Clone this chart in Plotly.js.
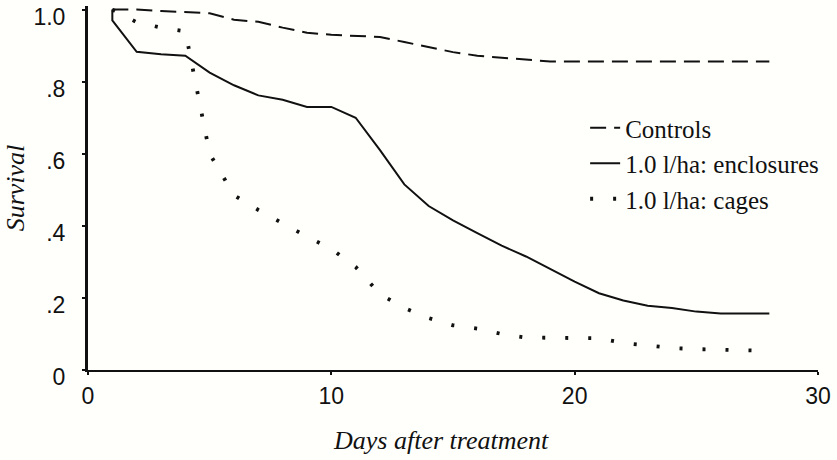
<!DOCTYPE html>
<html>
<head>
<meta charset="utf-8">
<script src="https://cdn.plot.ly/plotly-3.0.1.min.js"></script>
<style>html,body{margin:0;padding:0;background:#fffffc;}#chart{width:837px;height:460px;}</style>
</head>
<body>
<div id="chart"></div>
<script>
// Days after treatment
const controlDays = [1,2,3,4,5,6,7,8,9,10,11,12,13,14,15,16,17,18,19,20,21,22,23,24,25,26,27,28];
const controlSurv = [1.0,1.0,0.996,0.993,0.99,0.972,0.966,0.95,0.936,0.93,0.928,0.924,0.91,0.895,0.882,0.872,0.866,0.861,0.856,0.856,0.856,0.856,0.856,0.856,0.856,0.856,0.856,0.856];

const enclosureDays = [1,1,2,3,4,5,6,7,8,9,10,11,12,13,14,15,16,17,18,19,20,21,22,23,24,25,26,27,28];
const enclosureSurv = [1.0,0.97,0.883,0.876,0.872,0.825,0.79,0.762,0.75,0.73,0.73,0.70,0.61,0.515,0.455,0.415,0.38,0.345,0.315,0.28,0.245,0.213,0.193,0.178,0.172,0.162,0.157,0.157,0.157];

const cageDays = [1,2,3,4,5,6,7,8,9,10,11,12,13,14,15,16,17,18,19,20,21,22,23,24,25,26,27,28];
const cageSurv = [1.0,0.965,0.95,0.94,0.60,0.485,0.444,0.406,0.37,0.336,0.286,0.21,0.172,0.144,0.124,0.115,0.10,0.09,0.089,0.089,0.088,0.075,0.067,0.061,0.058,0.056,0.053,0.053];

const seriesNames = ["Controls", "1.0 l/ha: enclosures", "1.0 l/ha: cages"];
const xTicks = [0,10,20,30];
const xTickText = ["0","10","20","30"];
const yTicks = [0,0.2,0.4,0.6,0.8,1.0];
const yTickText = ["0",".2",".4",".6",".8","1.0"];
const xTitle = "Days after treatment";
const yTitle = "Survival";

const traces = [
  {x: controlDays, y: controlSurv, name: seriesNames[0], mode: "lines",
   line: {color: "#111", width: 2, dash: "16px,8px"}},
  {x: enclosureDays, y: enclosureSurv, name: seriesNames[1], mode: "lines",
   line: {color: "#111", width: 2}},
  {x: cageDays, y: cageSurv, name: seriesNames[2], mode: "lines",
   line: {color: "#111", width: 3.8, dash: "3px,20px"}}
];

const sans = "Liberation Sans, Arial, sans-serif";
const serif = "Liberation Serif, Times New Roman, serif";

const layout = {
  width: 837, height: 460,
  margin: {l: 88, r: 19, t: 6, b: 90},
  paper_bgcolor: "#fffffc", plot_bgcolor: "#fffffc",
  showlegend: true,
  legend: {x: 0.681, y: 0.728, xanchor: "left", yanchor: "top",
           bgcolor: "rgba(0,0,0,0)", font: {family: serif, size: 25, color: "#111"}},
  xaxis: {range: [0, 30], tickvals: xTicks, ticktext: xTickText,
          showline: true, linewidth: 2, linecolor: "#111", ticks: "outside", ticklen: 3, tickwidth: 2, tickcolor: "#111",
          showgrid: false, zeroline: false, ticklabelstandoff: 1, ticklabeloverflow: "allow",
          tickfont: {family: sans, size: 23, color: "#111"}},
  yaxis: {range: [0, 1.01], tickvals: yTicks, ticktext: yTickText,
          showline: true, linewidth: 3, linecolor: "#111", ticks: "outside", ticklen: 3, tickwidth: 2, tickcolor: "#111",
          showgrid: false, zeroline: false, ticklabelstandoff: 12, ticklabeloverflow: "allow",
          ticklabelshift: 7,
          tickfont: {family: sans, size: 23, color: "#111"},
          title: {text: yTitle, standoff: 2, font: {family: serif, size: 26, style: "italic", color: "#111"}}},
  annotations: [
    {text: xTitle, xref: "paper", yref: "paper", x: 0.4836, y: -0.193, xanchor: "center", yanchor: "middle",
     showarrow: false, font: {family: serif, size: 26, style: "italic", color: "#111"}}
  ]
};

Plotly.newPlot("chart", traces, layout, {displayModeBar: false, staticPlot: true});
</script>
</body>
</html>
